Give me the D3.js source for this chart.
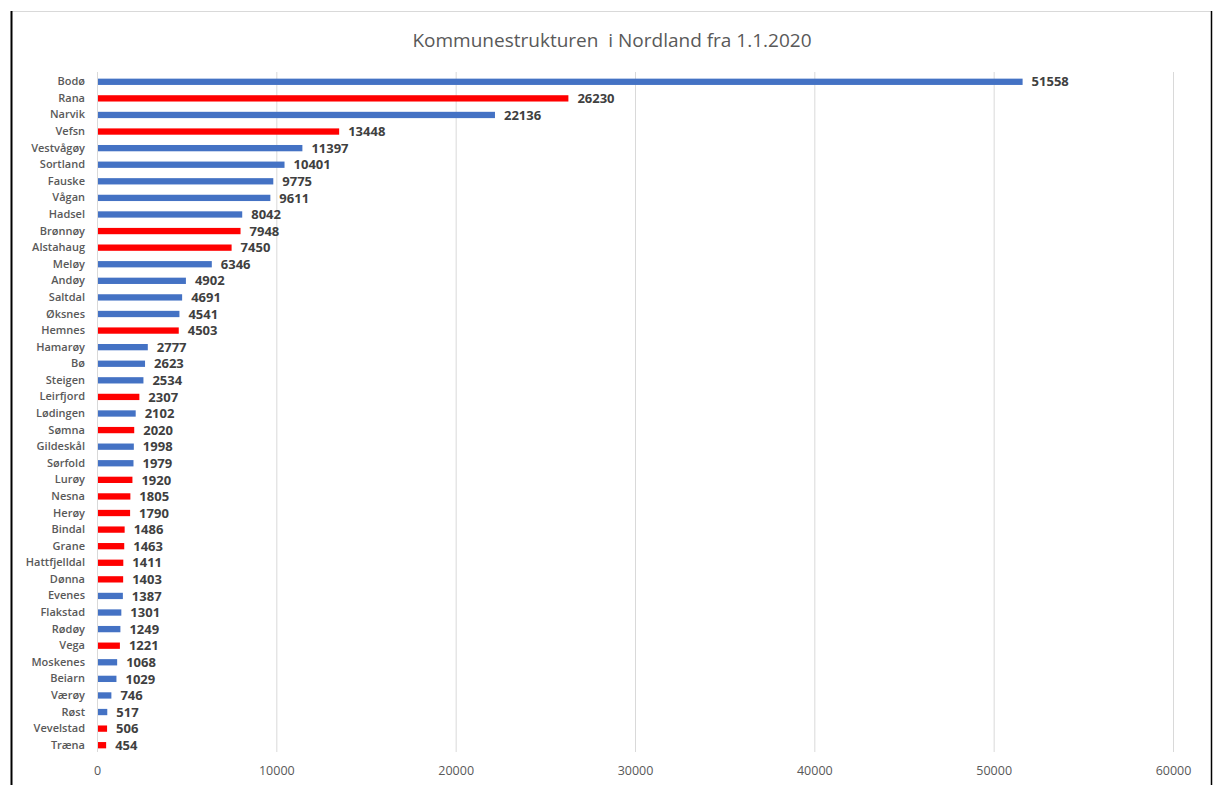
<!DOCTYPE html>
<html>
<head>
<meta charset="utf-8">
<script src="https://cdn.jsdelivr.net/npm/d3@7"></script>
<style>
    body { margin: 0; background: #fff; }
    svg { display: block; }
</style>
</head>
<body>
<div id="chart"></div>
<script>
var kommuner = ["Bodø", "Rana", "Narvik", "Vefsn", "Vestvågøy", "Sortland", "Fauske", "Vågan", "Hadsel",
    "Brønnøy", "Alstahaug", "Meløy", "Andøy", "Saltdal", "Øksnes", "Hemnes", "Hamarøy", "Bø", "Steigen",
    "Leirfjord", "Lødingen", "Sømna", "Gildeskål", "Sørfold", "Lurøy", "Nesna", "Herøy", "Bindal", "Grane",
    "Hattfjelldal", "Dønna", "Evenes", "Flakstad", "Rødøy", "Vega", "Moskenes", "Beiarn", "Værøy", "Røst",
    "Vevelstad", "Træna"];
var innbyggere = [51558, 26230, 22136, 13448, 11397, 10401, 9775, 9611, 8042,
    7948, 7450, 6346, 4902, 4691, 4541, 4503, 2777, 2623, 2534,
    2307, 2102, 2020, 1998, 1979, 1920, 1805, 1790, 1486, 1463,
    1411, 1403, 1387, 1301, 1249, 1221, 1068, 1029, 746, 517,
    506, 454];
// "r" = red bar, "b" = blue bar
var farge = ["b", "r", "b", "r", "b", "b", "b", "b", "b",
    "r", "r", "b", "b", "b", "b", "r", "b", "b", "b",
    "r", "b", "r", "b", "b", "r", "r", "r", "r", "r",
    "r", "r", "b", "b", "b", "r", "b", "b", "b", "b",
    "r", "r"];
var xTicks = [0, 10000, 20000, 30000, 40000, 50000, 60000];
var title = "Kommunestrukturen  i Nordland fra 1.1.2020";

var fullWidth = 1216, fullHeight = 785;
var margin = { top: 72, right: 43, bottom: 33, left: 97 },
    width = 1173 - margin.left,
    height = 752 - margin.top;

var blue = "#4472C4", red = "#FF0000";
var font = "'Open Sans', 'Noto Sans', sans-serif";

var root = d3.select("#chart")
    .append("svg")
    .attr("width", fullWidth)
    .attr("height", fullHeight);

// frame
root.append("line").attr("x1", 11).attr("x2", 1211).attr("y1", 11.5).attr("y2", 11.5)
    .attr("stroke", "#d9d9d9").attr("stroke-width", 1);
root.append("line").attr("x1", 11.5).attr("x2", 11.5).attr("y1", 11).attr("y2", fullHeight)
    .attr("stroke", "#000").attr("stroke-width", 2);
root.append("line").attr("x1", 1211.5).attr("x2", 1211.5).attr("y1", 11).attr("y2", fullHeight)
    .attr("stroke", "#000").attr("stroke-width", 1.5);

root.append("text")
    .attr("x", 612)
    .attr("y", 47)
    .attr("text-anchor", "middle")
    .attr("font-family", font)
    .attr("font-size", 19)
    .attr("fill", "#595959")
    .style("white-space", "pre")
    .text(title);

var svg = root.append("g")
    .attr("transform", "translate(" + margin.left + "," + margin.top + ")");

var x = d3.scaleLinear()
    .domain([0, 60000])
    .range([0, width]);

var y = d3.scaleBand()
    .domain(kommuner)
    .range([1.5, height + 1.5])
    .paddingInner(0.62)
    .paddingOuter(0.31);

// gridlines
svg.append("g")
    .selectAll("line")
    .data(xTicks)
    .enter().append("line")
    .attr("x1", d => x(d) + 0.5)
    .attr("x2", d => x(d) + 0.5)
    .attr("y1", 0)
    .attr("y2", height)
    .attr("stroke", "#d9d9d9")
    .attr("stroke-width", 1);

var xAxis = d3.axisBottom(x)
    .tickValues(xTicks)
    .tickFormat(d3.format("d"))
    .tickSize(0)
    .tickPadding(14);
var gx = svg.append("g")
    .attr("transform", "translate(0," + height + ")")
    .call(xAxis);
gx.select(".domain").remove();
gx.selectAll("text")
    .attr("font-family", font)
    .attr("font-size", 12.5)
    .attr("fill", "#595959");

var yAxis = d3.axisLeft(y)
    .tickSize(0)
    .tickPadding(12);
var gy = svg.append("g").call(yAxis);
gy.select(".domain").remove();
gy.selectAll("text")
    .attr("font-family", font)
    .attr("font-size", 11)
    .attr("font-weight", 600)
    .attr("fill", "#595959");

var dataset = kommuner.map((k, i) => ({ name: k, value: innbyggere[i], color: farge[i] }));

svg.selectAll(".bar")
    .data(dataset)
    .enter().append("rect")
    .attr("class", "bar")
    .attr("x", x(0) + 1)
    .attr("y", d => y(d.name))
    .attr("width", d => x(d.value) - x(0))
    .attr("height", y.bandwidth())
    .attr("fill", d => d.color === "r" ? red : blue);

svg.selectAll(".val")
    .data(dataset)
    .enter().append("text")
    .attr("class", "val")
    .attr("x", d => x(d.value) + 10)
    .attr("y", d => y(d.name) + y.bandwidth() / 2)
    .attr("dy", "0.36em")
    .attr("font-family", font)
    .attr("font-size", 13)
    .attr("font-weight", 700)
    .attr("fill", "#404040")
    .text(d => d.value);
</script>
</body>
</html>
